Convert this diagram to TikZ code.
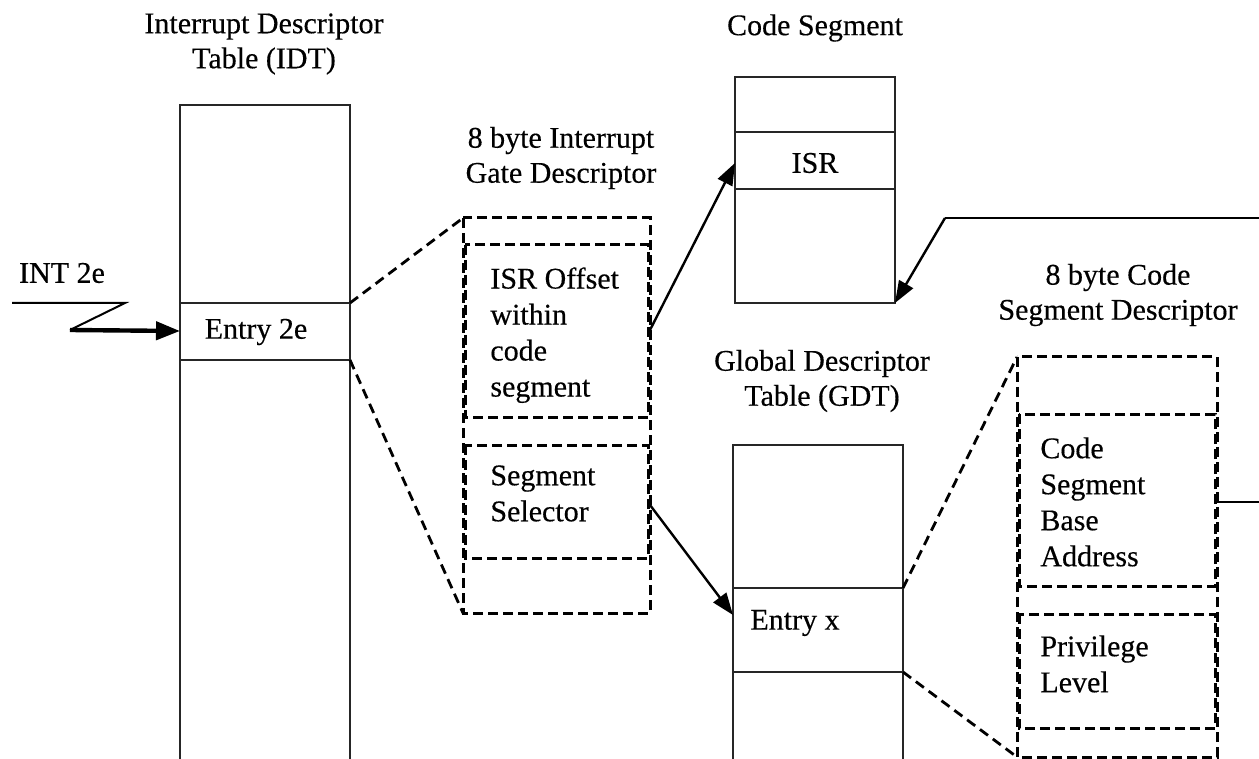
\documentclass[tikz,border=0pt]{standalone}
\usepackage{fontspec}
\setmainfont{Liberation Serif}[FakeBold=0.35]
\usetikzlibrary{arrows.meta}
\begin{document}
\begin{tikzpicture}[x=0.5pt,y=-0.5pt,
  solidbox/.style={draw=black!85, line width=1pt},
  dashbox/.style={draw, line width=1.5pt, dash pattern=on 5pt off 2.5pt},
  zoomline/.style={line width=1.4pt, dash pattern=on 5pt off 3pt},
  link/.style={line width=1.2pt, -{Triangle[length=11pt,width=8pt]}},
  thicklink/.style={line width=2.2pt, -{Triangle[length=12pt,width=9pt]}},
  plain/.style={line width=1pt},
  txt/.style={font=\fontsize{15}{18}\selectfont, inner sep=0pt, align=left},
  ttl/.style={font=\fontsize{15}{17.5}\selectfont, inner sep=0pt, align=center},
]
\useasboundingbox (0,0) rectangle (1259,759);

% ---------- IDT ----------
\node[ttl] (idtT) at (264,44) {Interrupt Descriptor\\Table (IDT)};
\draw[solidbox] (180,105) rectangle (350,780);
\draw[solidbox] (180,303) -- (350,303);
\draw[solidbox] (180,360) -- (350,360);
\node[txt] (entry2e) at (256,332) {Entry 2e};
\coordinate (idtEntryTop) at (350,303);
\coordinate (idtEntryBot) at (350,360);
\coordinate (idtEntryL) at (180,331);

% ---------- INT 2e ----------
\node[txt] (int) at (62,273) {INT 2e};
\coordinate (intA) at (12,303);
\coordinate (intB) at (125,303);
\coordinate (intC) at (70,330);
\draw[plain] (intA) -- (intB) -- (intC);
\draw[thicklink] (intC) -- (idtEntryL);

% ---------- Gate descriptor ----------
\node[ttl] (gateT) at (561,158) {8 byte Interrupt\\Gate Descriptor};
\draw[dashbox] (463,218) rectangle (650,613);
\draw[dashbox] (465,245) rectangle (648,417);
\draw[dashbox] (465,445) rectangle (648,558);
\coordinate (gateTL) at (463,218);
\coordinate (gateBL) at (463,613);
\coordinate (offR) at (650,330);
\coordinate (selR) at (650,505);
\node[txt, anchor=north west] (offset) at (490,267) {ISR Offset\\within\\code\\segment};
\node[txt, anchor=north west] (selector) at (490,465) {Segment\\Selector};

\draw[zoomline] (idtEntryTop) -- (gateTL);
\draw[zoomline] (idtEntryBot) -- (gateBL);

% ---------- Code segment ----------
\node[ttl] (csT) at (815,28) {Code Segment};
\draw[solidbox] (735,77) rectangle (895,303);
\draw[solidbox] (735,132) -- (895,132);
\draw[solidbox] (735,189) -- (895,189);
\node[txt] (isr) at (815,163) {ISR};
\coordinate (isrL) at (735,163);
\coordinate (csBR) at (895,303);
\draw[link] (offR) -- (isrL);

% ---------- GDT ----------
\node[ttl] (gdtT) at (822,381) {Global Descriptor\\Table (GDT)};
\draw[solidbox] (733,445) rectangle (903,780);
\draw[solidbox] (733,588) -- (903,588);
\draw[solidbox] (733,672) -- (903,672);
\node[txt] (entryx) at (795,623) {Entry x};
\coordinate (gdtEntryL) at (733,615);
\coordinate (gdtEntryTop) at (903,588);
\coordinate (gdtEntryBot) at (903,672);
\draw[link] (selR) -- (gdtEntryL);

% ---------- Code segment descriptor ----------
\node[ttl] (csdT) at (1118,295) {8 byte Code\\Segment Descriptor};
\draw[dashbox] (1017,357) rectangle (1217,757);
\draw[dashbox] (1019,414) rectangle (1215,586);
\draw[dashbox] (1019,614) rectangle (1215,728);
\coordinate (csdTL) at (1017,357);
\coordinate (csdBL) at (1017,757);
\node[txt, anchor=north west] (base) at (1040,437) {Code\\Segment\\Base\\Address};
\node[txt, anchor=north west] (priv) at (1040,635) {Privilege\\Level};
\draw[zoomline] (gdtEntryTop) -- (csdTL);
\draw[zoomline] (gdtEntryBot) -- (csdBL);

% ---------- base address back to code segment ----------
\coordinate (baseR) at (1217,502);
\coordinate (edgeR) at (1259,502);
\coordinate (edgeTop) at (1259,218);
\coordinate (bend) at (945,218);
\draw[plain] (baseR) -- (edgeR);
\draw[plain] (edgeTop) -- (bend);
\draw[link] (bend) -- (csBR);
\end{tikzpicture}
\end{document}
